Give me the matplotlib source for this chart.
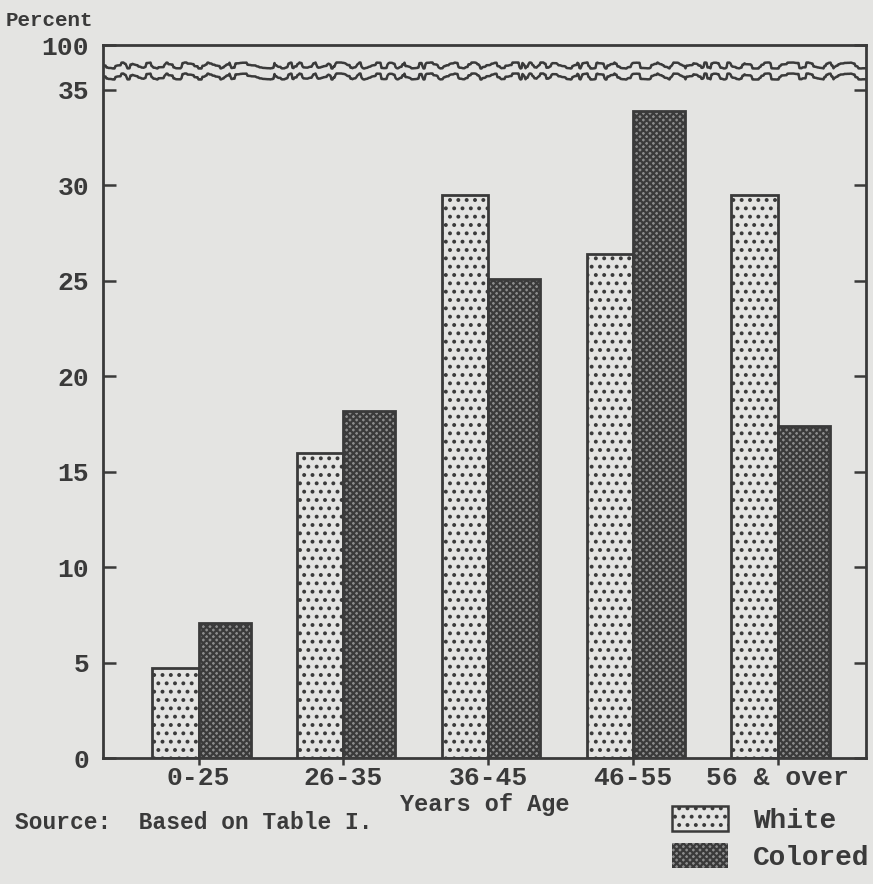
import matplotlib.pyplot as plt
import matplotlib.patches as mpatches
import numpy as np

# Percent of persons by age group
age_groups = ['0-25', '26-35', '36-45', '46-55', '56 & over']
white = [4.7, 16.0, 29.5, 26.4, 29.5]
colored = [7.1, 18.2, 25.1, 33.9, 17.4]
y_ticks = [0, 5, 10, 15, 20, 25, 30, 35]

plt.rcParams['font.family'] = ['Liberation Mono', 'DejaVu Sans Mono']
plt.rcParams['font.weight'] = 'bold'
paper = '#e4e4e2'
ink = '#3a3a3a'
plt.rcParams['hatch.color'] = ink
plt.rcParams['hatch.linewidth'] = 1.6

fig = plt.figure(figsize=(8.73, 8.84), dpi=100, facecolor=paper)
ax = fig.add_axes([0.1180, 0.1425, 0.874, 0.8065], facecolor=paper)

x = np.arange(len(age_groups))
w_white, w_col = 0.32, 0.36
ax.bar(x - w_white / 2, white, w_white, color=paper, edgecolor=ink, linewidth=2, hatch='..')
ax.bar(x + w_col / 2, colored, w_col, color='#8c8c8c', edgecolor=ink, linewidth=2, hatch='xxxxx')

# broken axis: top line stands for 100 percent
top = 37.35
ax.set_ylim(0, top)
ax.set_xlim(-0.66, 4.61)
ax.set_yticks(y_ticks + [top])
ax.set_yticklabels([str(t) for t in y_ticks] + ['100'])
ax.set_xticks(x)
ax.set_xticklabels(age_groups)
ax.tick_params(axis='y', direction='in', right=True, length=9, width=1.8,
               labelsize=19, labelcolor=ink, color=ink, pad=10)
ax.tick_params(axis='x', direction='out', length=5, width=1.8,
               labelsize=19, labelcolor=ink, color=ink, pad=1)
for s in ax.spines.values():
    s.set_color(ink)
    s.set_linewidth(2)

for yb in (36.3, 35.75):
    ln = ax.axhline(yb, color=ink, linewidth=1.8)
    ln.set_sketch_params(scale=3, length=70, randomness=25)

ax.set_xlabel('Years of Age', fontsize=17, fontweight='bold', color=ink, labelpad=2)
fig.text(0.006, 0.977, 'Percent', fontsize=15, color=ink, va='center')
fig.text(0.017, 0.07, 'Source:  Based on Table I.', fontsize=16.5, color=ink, va='center')

h_white = mpatches.Patch(facecolor=paper, edgecolor=ink, hatch='..', linewidth=1.8, label='White')
h_col = mpatches.Patch(facecolor='#8c8c8c', edgecolor=ink, hatch='xxxxx', linewidth=0, label='Colored')
fig.legend(handles=[h_white, h_col], loc='lower right', bbox_to_anchor=(1.021, -0.01),
           frameon=False, prop={'size': 20, 'weight': 'bold'}, labelcolor=ink,
           handlelength=2.0, handleheight=1.0, labelspacing=0.3, handletextpad=0.9,
           borderpad=0.3)

fig.savefig('out.png', dpi=100, facecolor=paper)
